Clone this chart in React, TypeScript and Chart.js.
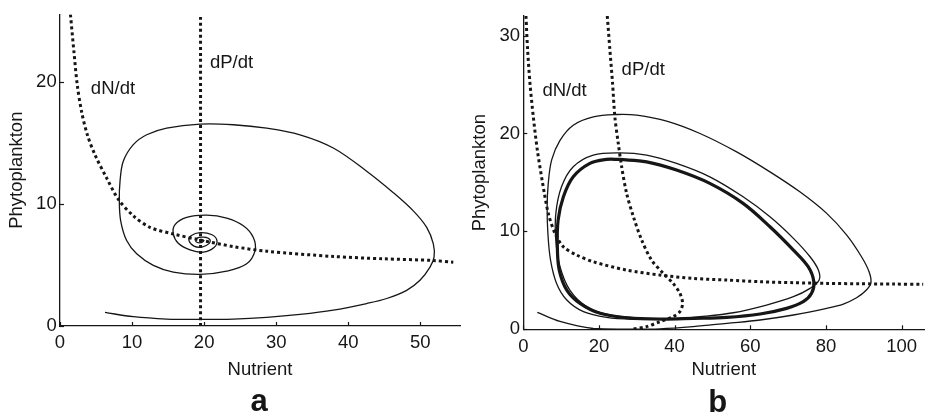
import React, { useEffect, useRef } from "react";
import { Chart, registerables } from "chart.js";

Chart.register(...registerables);

const INK = "#161616";
const FONT = '"Liberation Sans", Arial, Helvetica, sans-serif';

// ---------- Panel a data ----------
const limitsA = { xMax: 55.5, yMax: 25.5, xStep: 10, yStep: 10 };

const nullNA: number[][] = [
  [1.45, 25.5], [1.94, 22.4], [2.4, 19.7], [3.01, 17.5], [3.79, 15.65], [4.86, 14.0],
  [6.48, 12.1], [8.09, 10.37], [10.17, 9.02], [12.49, 8.07], [15.72, 7.53], [19.43, 7.04],
  [24.05, 6.5], [28.68, 6.12], [37.92, 5.69], [44.86, 5.5], [51.8, 5.36], [54.57, 5.22],
];

const nullPA: number[][] = [
  [19.5, 0], [19.5, 25.5],
];

const trajA: number[][] = [
  [6.24, 1.11], [10.17, 0.76], [14.8, 0.57], [19.43, 0.54], [24.05, 0.57], [28.68, 0.71],
  [33.3, 0.95], [37.92, 1.3], [42.55, 1.84], [45.33, 2.25], [48.1, 2.92], [49.95, 3.74],
  [51.34, 4.82], [51.9, 5.63], [51.8, 6.72], [50.88, 8.07], [49.02, 9.42], [46.25, 10.91],
  [42.55, 12.67], [37.92, 14.57], [33.3, 15.65], [28.68, 16.19], [24.05, 16.47], [19.43, 16.52],
  [14.8, 16.19], [12.03, 15.65], [10.17, 14.84], [8.78, 13.48], [8.33, 11.86], [8.23, 10.24],
  [8.42, 8.61], [9.25, 6.99], [10.64, 5.91], [12.95, 4.96], [15.72, 4.41], [19.43, 4.22],
  [23.13, 4.49], [25.9, 5.09], [27.06, 6.17], [26.82, 7.25], [25.44, 8.2], [23.13, 8.83],
  [20.35, 9.07], [17.58, 8.88], [15.96, 8.29], [15.72, 7.53], [16.41, 6.77], [18.04, 6.23],
  [19.88, 6.04], [21.37, 6.42], [21.78, 6.99], [21.09, 7.47], [19.43, 7.64], [18.18, 7.39],
  [17.9, 6.99], [18.59, 6.54], [19.7, 6.46], [20.67, 6.74], [20.81, 7.07], [19.98, 7.27],
  [19.01, 7.19], [18.87, 6.9], [19.56, 6.82], [19.98, 6.99], [19.56, 7.07],
];

const labelsA = [
  { text: "dN/dt", x: 7.35, y: 19.37 },
  { text: "dP/dt", x: 23.8, y: 21.5 },
];

// ---------- Panel b data ----------
const limitsB = { xMax: 106, yMax: 32, xStep: 20, yStep: 10 };

const nullNB: number[][] = [
  [0.7, 32], [1.15, 28.5], [1.77, 25.1], [2.65, 21.7], [3.71, 18.3], [5.12, 14.9],
  [6.61, 11.84], [8.38, 9.8], [10.57, 8.43], [14.1, 7.58], [18.5, 6.9], [27.3, 6.05],
  [36.1, 5.54], [44.9, 5.2], [53.8, 5.03], [62.6, 4.86], [71.4, 4.76], [80.2, 4.69],
  [89.0, 4.65], [97.8, 4.62], [105.7, 4.59],
];

const nullPB: number[][] = [
  [22.2, 32], [22.9, 28.5], [23.6, 25.1], [24.2, 21.7], [25.1, 19.0], [26.0, 16.6],
  [27.3, 13.9], [29.1, 11.5], [31.3, 9.11], [33.9, 7.07], [37.0, 5.71], [39.6, 4.69],
  [41.4, 3.67], [42.1, 2.65], [41.4, 1.8], [39.6, 1.29], [36.1, 0.78], [32.6, 0.27], [28.5, 0],
];

const trajB: number[][] = [
  [3.7, 1.73], [9.7, 0.8], [18.5, 0.08], [27.3, 0.02], [36.1, 0.05], [44.9, 0.27],
  [53.8, 0.61], [62.6, 0.95], [71.4, 1.46], [80.2, 2.14], [84.6, 2.58], [88.1, 3.22],
  [90.7, 4.01], [91.9, 4.76], [91.4, 5.88], [89.4, 7.41], [85.5, 9.62], [80.2, 11.84],
  [73.1, 14.04], [65.2, 16.08], [56.4, 18.12], [46.7, 20.0], [37.9, 21.26], [30.0, 21.87],
  [24.7, 21.94], [18.5, 21.7], [13.2, 20.85], [9.7, 19.3], [7.5, 17.3], [6.6, 14.9],
  [6.3, 12.5], [6.5, 9.8], [7.2, 7.07], [8.8, 4.69], [11.5, 2.99], [15.9, 1.8],
  [22.0, 1.22], [29.1, 1.02], [37.9, 1.02], [46.7, 1.29], [55.5, 1.69], [64.3, 2.48],
  [71.4, 3.33], [75.8, 4.18], [78.2, 5.03], [78.0, 6.05], [75.8, 7.41], [71.4, 9.29],
  [65.2, 11.49], [58.1, 13.53], [49.3, 15.57], [40.5, 16.94], [32.6, 17.79], [25.6, 18.02],
  [18.5, 17.79], [13.2, 16.6], [10.1, 14.55], [8.6, 11.84], [8.6, 9.11], [9.7, 6.39],
  [12.3, 4.01], [16.8, 2.31], [22.9, 1.46], [31.7, 1.12],
];

const cycleB: number[][] = [
  [25.4, 17.35], [32.6, 17.1], [40.5, 16.26], [49.3, 14.9], [58.1, 12.86], [65.2, 10.47],
  [71.4, 8.09], [75.3, 6.39], [76.8, 4.86], [76.2, 3.67], [74.0, 2.82], [69.6, 2.14],
  [62.6, 1.56], [53.8, 1.22], [44.9, 1.12], [36.1, 1.05], [27.3, 1.18], [20.3, 1.63],
  [15.0, 2.65], [11.5, 4.01], [9.5, 6.05], [9.0, 8.43], [9.2, 11.15], [10.6, 13.53],
  [13.2, 15.57], [17.6, 16.94], [22.0, 17.35], [25.4, 17.35],
];

const labelsB = [
  { text: "dN/dt", x: 10.9, y: 24.3 },
  { text: "dP/dt", x: 31.7, y: 26.5 },
];

const xTitle = "Nutrient";
const yTitle = "Phytoplankton";

// ---------- layout (styles, not data) ----------
type Panel = {
  letter: string;
  limits: { xMax: number; yMax: number; xStep: number; yStep: number };
  nullclines: number[][][];
  thin: number[][][];
  thick: number[][][];
  labels: { text: string; x: number; y: number }[];
  canvasLeft: number;
  canvasWidth: number;
  pad: { left: number; right: number; top: number; bottom: number };
  yWidth: number;
  xHeight: number;
  xTickPad: number;
  yTitlePad: number;
  letterDx: number;
  letterY: number;
};

const panelA: Panel = {
  letter: "a",
  limits: limitsA,
  nullclines: [nullNA, nullPA],
  thin: [trajA],
  thick: [],
  labels: labelsA,
  canvasLeft: 0,
  canvasWidth: 465,
  pad: { left: 0, right: 5, top: 12, bottom: 36.2 },
  yWidth: 60,
  xHeight: 56.8,
  xTickPad: 5.8,
  yTitlePad: 6.2,
  letterDx: -1,
  letterY: 411,
};

const panelB: Panel = {
  letter: "b",
  limits: limitsB,
  nullclines: [nullNB, nullPB],
  thin: [trajB],
  thick: [cycleB],
  labels: labelsB,
  canvasLeft: 465,
  canvasWidth: 464,
  pad: { left: 0, right: 4.7, top: 16, bottom: 36.2 },
  yWidth: 58.3,
  xHeight: 53.5,
  xTickPad: 6.4,
  yTitlePad: 4.2,
  letterDx: -6,
  letterY: 412,
};

const toXY = (a: number[][]) => a.map(([x, y]) => ({ x, y }));

const decorPlugin = {
  id: "decor",
  afterDraw(chart: any, _args: any, opts: any) {
    const { ctx, chartArea } = chart;
    const xs = chart.scales.x;
    const ys = chart.scales.y;
    ctx.save();
    ctx.strokeStyle = INK;
    ctx.lineWidth = 1.2;
    xs.ticks.forEach((t: any) => {
      const px = Math.round(xs.getPixelForValue(t.value)) + 0.5;
      ctx.beginPath();
      ctx.moveTo(px, chartArea.bottom);
      ctx.lineTo(px, chartArea.bottom - 4);
      ctx.stroke();
    });
    ys.ticks.forEach((t: any) => {
      const py = Math.round(ys.getPixelForValue(t.value)) + 0.5;
      ctx.beginPath();
      ctx.moveTo(chartArea.left, py);
      ctx.lineTo(chartArea.left + 4, py);
      ctx.stroke();
    });
    ctx.fillStyle = INK;
    ctx.font = `18.5px ${FONT}`;
    ctx.textAlign = "center";
    ctx.textBaseline = "middle";
    (opts.labels || []).forEach((l: any) => {
      ctx.fillText(l.text, xs.getPixelForValue(l.x), ys.getPixelForValue(l.y));
    });
    ctx.font = `bold 31px ${FONT}`;
    ctx.textBaseline = "alphabetic";
    ctx.fillText(opts.letter, (chartArea.left + chartArea.right) / 2 + opts.letterDx, opts.letterY);
    ctx.restore();
  },
};

function buildConfig(p: Panel): any {
  const lineBase = { showLine: true, pointRadius: 0, fill: false, borderColor: INK, borderJoinStyle: "round" };
  const datasets = [
    ...p.nullclines.map((d) => ({
      ...lineBase,
      data: toXY(d),
      borderWidth: 3,
      borderDash: [3, 3],
      borderCapStyle: "butt",
      tension: 0.3,
    })),
    ...p.thin.map((d) => ({ ...lineBase, data: toXY(d), borderWidth: 1.3, tension: 0.35 })),
    ...p.thick.map((d) => ({ ...lineBase, data: toXY(d), borderWidth: 3.2, tension: 0.35 })),
  ];
  const tickFont = { family: FONT, size: 18.5 };
  return {
    type: "scatter",
    data: { datasets },
    options: {
      responsive: false,
      animation: false,
      events: [],
      layout: { padding: p.pad },
      plugins: {
        legend: { display: false },
        tooltip: { enabled: false },
        decor: { labels: p.labels, letter: p.letter, letterDx: p.letterDx, letterY: p.letterY },
      },
      scales: {
        x: {
          type: "linear",
          position: "bottom",
          min: 0,
          max: p.limits.xMax,
          afterFit: (s: any) => {
            s.height = p.xHeight;
          },
          ticks: {
            stepSize: p.limits.xStep,
            includeBounds: false,
            autoSkip: false,
            maxRotation: 0,
            padding: p.xTickPad,
            color: INK,
            font: tickFont,
          },
          grid: { display: false, drawTicks: false },
          border: { display: true, color: INK, width: 1.3 },
          title: { display: true, text: xTitle, color: INK, font: tickFont, padding: { top: 0, bottom: 2 } },
        },
        y: {
          type: "linear",
          position: "left",
          min: 0,
          max: p.limits.yMax,
          afterFit: (s: any) => {
            s.width = p.yWidth;
          },
          ticks: {
            stepSize: p.limits.yStep,
            includeBounds: false,
            autoSkip: false,
            padding: 3.3,
            color: INK,
            font: tickFont,
          },
          grid: { display: false, drawTicks: false },
          border: { display: true, color: INK, width: 1.3 },
          title: { display: true, text: yTitle, color: INK, font: tickFont, padding: { top: p.yTitlePad, bottom: 0 } },
        },
      },
    },
    plugins: [decorPlugin],
  };
}

function PanelChart({ panel }: { panel: Panel }) {
  const ref = useRef<HTMLCanvasElement>(null);
  useEffect(() => {
    if (!ref.current) return;
    const chart = new Chart(ref.current, buildConfig(panel));
    return () => chart.destroy();
  }, [panel]);
  return (
    <canvas
      ref={ref}
      width={panel.canvasWidth}
      height={419}
      style={{ position: "absolute", left: panel.canvasLeft, top: 0, width: panel.canvasWidth, height: 419 }}
    />
  );
}

export default function App() {
  return (
    <div style={{ position: "fixed", left: 0, top: 0, width: 929, height: 419, background: "#ffffff", overflow: "hidden" }}>
      <PanelChart panel={panelA} />
      <PanelChart panel={panelB} />
    </div>
  );
}
